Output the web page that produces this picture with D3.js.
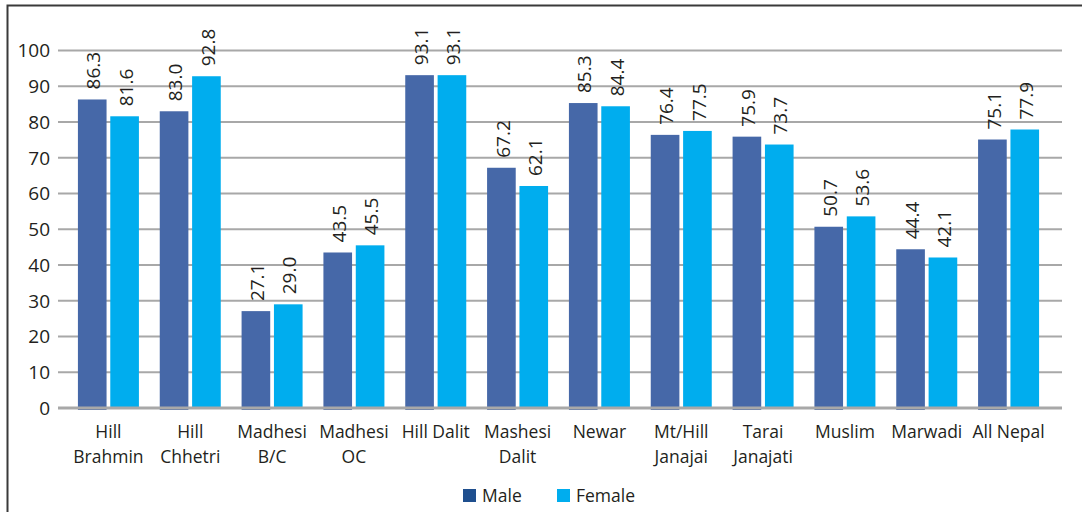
<!DOCTYPE html>
<html>
<head>
<meta charset="utf-8">
<script src="https://cdn.jsdelivr.net/npm/d3@7"></script>
<style>
body { margin: 0; background: #fff; }
text { font-family: "Open Sans", "DejaVu Sans", sans-serif; fill: #231f20; }
</style>
</head>
<body>
<div id="chart"></div>
<script>
const W = 1082, H = 512;

// data
const categories = [
	["Hill", "Brahmin"], ["Hill", "Chhetri"], ["Madhesi", "B/C"], ["Madhesi", "OC"],
	["Hill Dalit"], ["Mashesi", "Dalit"], ["Newar"], ["Mt/Hill", "Janajai"],
	["Tarai", "Janajati"], ["Muslim"], ["Marwadi"], ["All Nepal"]
];
const male   = [86.3, 83.0, 27.1, 43.5, 93.1, 67.2, 85.3, 76.4, 75.9, 50.7, 44.4, 75.1];
const female = [81.6, 92.8, 29.0, 45.5, 93.1, 62.1, 84.4, 77.5, 73.7, 53.6, 42.1, 77.9];
const series = ["Male", "Female"];
const yTicks = [0, 10, 20, 30, 40, 50, 60, 70, 80, 90, 100];

const colors = { Male: "#4668a8", Female: "#00adee" };
const legendColors = { Male: "#1f4f8e", Female: "#00adee" };

const svg = d3.select("#chart").append("svg")
	.attr("width", W)
	.attr("height", H);

// outer frame
svg.append("rect")
	.attr("x", 7.5).attr("y", 5.5)
	.attr("width", W + 10).attr("height", H + 10)
	.attr("fill", "none")
	.attr("stroke", "#3a3a3a")
	.attr("stroke-width", 2);

const gridLeft = 58, gridRight = 1062;
const y = d3.scaleLinear().domain([0, 100]).range([408, 50.5]);
const x = d3.scaleBand().domain(d3.range(categories.length)).range([67.5, 1049.5]);
const inner = d3.scaleBand().domain(series).range([x.bandwidth() / 2 - 30.5, x.bandwidth() / 2 + 30.5]).paddingInner(0.115);

// gridlines
svg.append("g").selectAll("line")
	.data(yTicks.filter(d => d > 0))
	.join("line")
		.attr("x1", gridLeft).attr("x2", gridRight)
		.attr("y1", d => y(d)).attr("y2", d => y(d))
		.attr("stroke", "#a8a8a8")
		.attr("stroke-width", 2);

// y tick labels
svg.append("g").selectAll("text")
	.data(yTicks)
	.join("text")
		.attr("x", 50)
		.attr("y", d => y(d))
		.attr("dy", "0.36em")
		.attr("text-anchor", "end")
		.attr("font-size", 19)
		.text(d => d);

// bars
const groups = svg.append("g").selectAll("g")
	.data(categories.map((c, i) => ({ i, vals: [male[i], female[i]] })))
	.join("g")
		.attr("transform", d => `translate(${x(d.i)},0)`);

groups.selectAll("rect")
	.data(d => d.vals.map((v, k) => ({ key: series[k], v })))
	.join("rect")
		.attr("x", d => inner(d.key))
		.attr("width", inner.bandwidth())
		.attr("y", d => y(d.v))
		.attr("height", d => y(0) - y(d.v) + (d.key == "Male" ? 2 : 0))
		.attr("fill", d => colors[d.key]);

// value labels, rotated
groups.selectAll("text")
	.data(d => d.vals.map((v, k) => ({ key: series[k], v })))
	.join("text")
		.attr("transform", d => `translate(${inner(d.key) + inner.bandwidth() / 2 + 1.5},${y(d.v) - 10}) rotate(-90)`)
		.attr("dy", "0.35em")
		.attr("font-size", 19)
		.text(d => d.v.toFixed(1));

// axis line
svg.append("line")
	.attr("x1", gridLeft).attr("x2", gridRight)
	.attr("y1", y(0)).attr("y2", y(0))
	.attr("stroke", "#a8a8a8")
	.attr("stroke-width", 3);

// category labels
svg.append("g").selectAll("text")
	.data(categories.map((c, i) => ({ c, i })))
	.join("text")
		.attr("text-anchor", "middle")
		.attr("font-size", 17.5)
		.each(function(d) {
			d3.select(this).selectAll("tspan")
				.data(d.c)
				.join("tspan")
					.attr("x", x(d.i) + x.bandwidth() / 2)
					.attr("y", (t, k) => 438 + k * 25)
					.text(t => t);
		});

// legend
const legend = svg.append("g").selectAll("g")
	.data(series)
	.join("g")
		.attr("transform", (d, i) => `translate(${463 + i * 94},489)`);
legend.append("rect")
	.attr("width", 13).attr("height", 13)
	.attr("fill", d => legendColors[d]);
legend.append("text")
	.attr("x", 19).attr("y", 13)
	.attr("font-size", 17.5)
	.text(d => d);
</script>
</body>
</html>
